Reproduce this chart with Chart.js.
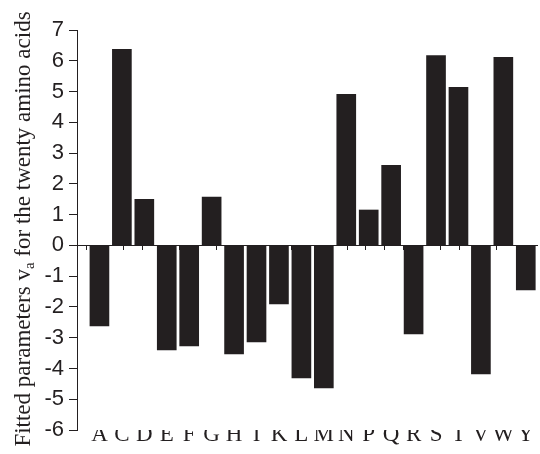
<!DOCTYPE html>
<html>
<head>
<meta charset="utf-8">
<script src="https://cdn.jsdelivr.net/npm/chart.js@4.4.0/dist/chart.umd.min.js"></script>
<style>
    html, body { margin: 0; padding: 0; background: #fff; }
    #wrap { width: 540px; height: 454px; }
</style>
</head>
<body>
<div id="wrap"><canvas id="vaChart"></canvas></div>
<script>
// amino acids along the x axis
var aminoAcids = ['A', 'C', 'D', 'E', 'F', 'G', 'H', 'I', 'K', 'L',
                  'M', 'N', 'P', 'Q', 'R', 'S', 'T', 'V', 'W', 'Y'];
// fitted v_a
var fittedValues = [-2.62, 6.37, 1.50, -3.40, -3.27, 1.57, -3.53, -3.14, -1.90, -4.31,
                    -4.63, 4.91, 1.15, 2.60, -2.88, 6.17, 5.14, -4.18, 6.11, -1.45];
var yMin = -6;
var yMax = 7;
var titleParts = ['Fitted parameters v', 'a', ' for the twenty amino acids'];

var ink = '#231f20';

// rotated y title with a subscript "a"
var yTitlePlugin = {
    id: 'yTitle',
    afterDraw: function(chart) {
        var ctx = chart.ctx;
        var area = chart.chartArea;
        var bigFont = '23px "Liberation Serif"';
        var smallFont = '15px "Liberation Serif"';
        ctx.save();
        ctx.font = bigFont;
        var w1 = ctx.measureText(titleParts[0]).width;
        var w3 = ctx.measureText(titleParts[2]).width;
        ctx.font = smallFont;
        var w2 = ctx.measureText(titleParts[1]).width;
        var total = w1 + w2 + w3;
        ctx.translate(30, (area.top + area.bottom) / 2 - 1);
        ctx.rotate(-Math.PI / 2);
        ctx.fillStyle = ink;
        ctx.textBaseline = 'alphabetic';
        ctx.textAlign = 'left';
        var x = -total / 2;
        ctx.font = bigFont;
        ctx.fillText(titleParts[0], x, 0);
        x += w1;
        ctx.font = smallFont;
        ctx.fillText(titleParts[1], x, 4);
        x += w2;
        ctx.font = bigFont;
        ctx.fillText(titleParts[2], x, 0);
        ctx.restore();
    }
};

var ctx = document.getElementById('vaChart').getContext('2d');
var vaChart = new Chart(ctx, {
    type: 'bar',
    data: {
        datasets: [{
            label: 'v_a',
            data: aminoAcids.map(function(a, i) { return { x: i, y: fittedValues[i] }; }),
            backgroundColor: ink,
            borderWidth: 0,
            barThickness: 19
        }]
    },
    options: {
        responsive: true,
        maintainAspectRatio: false,
        animation: false,
        layout: { padding: { top: 30, right: 3, left: 0, bottom: 0 } },
        plugins: {
            legend: { display: false },
            tooltip: { enabled: false }
        },
        scales: {
            x: {
                type: 'linear',
                position: 'bottom',
                offset: false,
                min: -1,
                max: 19.5,
                afterBuildTicks: function(scale) {
                    scale.ticks = aminoAcids.map(function(a, i) { return { value: i }; });
                },
                afterFit: function(scale) { scale.height = 24; },
                grid: { display: false, drawTicks: false, offset: false },
                border: { display: false },
                ticks: {
                    autoSkip: false,
                    maxRotation: 0,
                    padding: -9,
                    color: ink,
                    font: { family: 'Liberation Serif', size: 23 },
                    callback: function(v) { return aminoAcids[v] || ''; }
                }
            },
            // zero line with its small tick marks
            x2: {
                type: 'linear',
                position: { y: 0 },
                offset: false,
                min: 0,
                max: 24.68,
                grid: { drawOnChartArea: false, tickLength: 4, color: ink },
                border: { color: ink, width: 1 },
                ticks: { display: false, stepSize: 1 }
            },
            y: {
                min: yMin,
                max: yMax,
                afterFit: function(scale) { scale.width = 77; },
                grid: {
                    drawOnChartArea: false,
                    tickLength: 8,
                    tickColor: ink,
                    tickBorderDash: function(c) {
                        return (c.tick && !Number.isInteger(c.tick.value)) ? [0, 3, 5, 20] : [];
                    }
                },
                border: { color: ink, width: 1 },
                ticks: {
                    stepSize: 0.5,
                    padding: 5,
                    color: ink,
                    font: { family: 'Liberation Sans', size: 22 },
                    callback: function(v) { return Number.isInteger(v) ? v : ''; }
                }
            }
        }
    },
    plugins: [yTitlePlugin]
});
</script>
</body>
</html>
